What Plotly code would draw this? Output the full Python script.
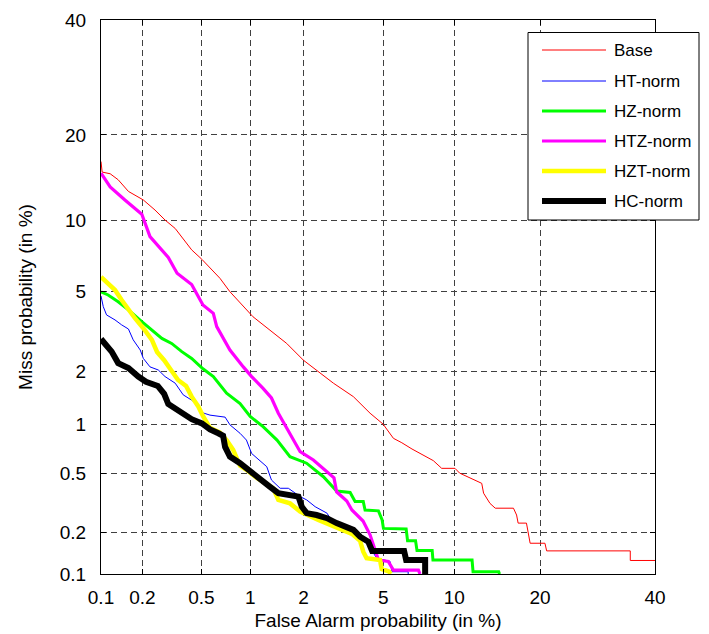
import plotly.graph_objects as go
from statistics import NormalDist

# ---- data (percent values) ----
tick_vals_pct = [0.1, 0.2, 0.5, 1, 2, 5, 10, 20, 40]
tick_labels = ["0.1", "0.2", "0.5", "1", "2", "5", "10", "20", "40"]

base_fa = [0.10, 0.102, 0.117, 0.134, 0.159, 0.203, 0.245, 0.287, 0.336, 0.432, 0.503, 0.655, 0.755,
           1.04, 1.62, 2.0, 2.87, 3.61, 4.34, 4.99, 5.56, 6.06, 6.71, 7.26, 7.75, 8.25, 8.92, 10.07,
           10.5, 11.5, 12.7, 12.9, 13.6, 14.2, 16.4, 16.8, 17.0, 18.1, 18.6, 20.7, 20.95, 35.2, 35.2, 40.0]
base_miss = [16.4, 15.1, 14.9, 14.2, 12.9, 12.0, 11.0, 10.07, 9.33, 7.63, 6.96, 5.75, 5.0,
             3.81, 2.81, 2.3, 1.73, 1.455, 1.17, 1.01, 0.83, 0.78, 0.714, 0.67, 0.633, 0.604, 0.54, 0.54,
             0.503, 0.471, 0.432, 0.372, 0.318, 0.295, 0.295, 0.265, 0.233, 0.233, 0.168, 0.168, 0.148, 0.148, 0.126, 0.126]

ht_fa = [0.10, 0.104, 0.11, 0.127, 0.142, 0.159, 0.172, 0.193, 0.203, 0.226, 0.258, 0.287, 0.336, 0.38,
         0.432, 0.466, 0.49, 0.567, 0.705, 0.755, 0.87, 0.95, 1.02, 1.12, 1.25, 1.33, 1.49, 1.655, 1.92,
         2.08, 2.31, 2.66, 2.87, 3.22, 3.48, 4.18, 4.67, 5.37, 5.48, 6.46, 6.46]
ht_miss = [4.78, 4.26, 3.89, 3.68, 3.48, 3.32, 2.93, 2.60, 2.35, 2.12, 2.04, 1.88, 1.73, 1.49,
           1.39, 1.32, 1.19, 1.14, 1.11, 1.0, 0.89, 0.81, 0.67, 0.61, 0.553, 0.454, 0.401, 0.401, 0.353,
           0.336, 0.302, 0.273, 0.233, 0.226, 0.209, 0.168, 0.131, 0.124, 0.104, 0.104, 0.1]

hz_fa = [0.10, 0.113, 0.134, 0.159, 0.198, 0.233, 0.273, 0.318, 0.372, 0.432, 0.511, 0.595, 0.72, 0.87,
         1.0, 1.19, 1.43, 1.69, 2.08, 2.55, 2.98, 3.48, 3.68, 4.03, 4.11, 4.75, 4.94, 5.01, 6.33, 6.42,
         6.95, 7.05, 8.16, 8.22, 11.7, 11.8, 14.6, 14.7]
hz_miss = [5.0, 4.83, 4.49, 4.11, 3.61, 3.28, 2.98, 2.81, 2.55, 2.35, 2.07, 1.88, 1.52, 1.33,
           1.12, 0.975, 0.81, 0.64, 0.582, 0.477, 0.385, 0.376, 0.327, 0.327, 0.287, 0.283, 0.245, 0.214,
           0.212, 0.175, 0.175, 0.149, 0.149, 0.127, 0.127, 0.104, 0.104, 0.1]

htz_fa = [0.10, 0.117, 0.150, 0.198, 0.226, 0.302, 0.346, 0.432, 0.511, 0.595, 0.625, 0.755, 0.91, 1.02,
          1.19, 1.33, 1.455, 1.69, 1.92, 2.26, 2.60, 2.89, 2.98, 3.35, 3.55, 4.02, 4.34, 4.58, 4.75, 5.27,
          5.56, 7.15, 7.26]
htz_miss = [14.96, 13.4, 12.0, 10.6, 8.65, 7.09, 6.06, 5.39, 4.34, 3.96, 3.41, 2.60, 2.12, 1.88,
            1.62, 1.43, 1.17, 0.89, 0.687, 0.61, 0.528, 0.469, 0.38, 0.33, 0.287, 0.241, 0.193, 0.150, 0.127, 0.124,
            0.107, 0.107, 0.1]

hzt_fa = [0.10, 0.113, 0.127, 0.142, 0.159, 0.177, 0.203, 0.233, 0.253, 0.283, 0.315, 0.351, 0.397, 0.432,
          0.477, 0.513, 0.567, 0.655, 0.72, 0.79, 0.87, 0.95, 1.07, 1.22, 1.36, 1.455, 1.69, 1.92, 2.17,
          2.4, 2.93, 3.55, 3.89, 4.03, 4.18, 4.83, 4.92, 5.32, 5.4]
hzt_miss = [5.83, 5.46, 5.09, 4.58, 4.11, 3.75, 3.35, 2.93, 2.54, 2.3, 2.04, 1.8, 1.67, 1.455,
            1.28, 1.12, 0.96, 0.9, 0.81, 0.705, 0.56, 0.528, 0.477, 0.432, 0.401, 0.336, 0.318, 0.28, 0.258,
            0.245, 0.219, 0.196, 0.175, 0.146, 0.131, 0.127, 0.109, 0.104, 0.1]

hc_fa = [0.10, 0.11, 0.12, 0.134, 0.159, 0.187, 0.212, 0.256, 0.283, 0.302, 0.356, 0.397, 0.432, 0.503,
         0.567, 0.64, 0.685, 0.705, 0.755, 0.87, 1.0, 1.14, 1.3, 1.455, 1.69, 1.88, 1.96, 2.08, 2.35,
         2.66, 2.98, 3.35, 3.61, 3.89, 4.26, 4.44, 6.2, 6.33, 7.63, 7.63]
hc_miss = [2.96, 2.76, 2.55, 2.22, 2.09, 1.88, 1.76, 1.67, 1.51, 1.32, 1.21, 1.14, 1.08, 1.02,
           0.94, 0.89, 0.86, 0.735, 0.64, 0.582, 0.514, 0.454, 0.411, 0.372, 0.362, 0.353, 0.302, 0.273, 0.265,
           0.252, 0.233, 0.219, 0.209, 0.187, 0.172, 0.148, 0.148, 0.127, 0.127, 0.1]

series_names = ["Base", "HT-norm", "HZ-norm", "HTZ-norm", "HZT-norm", "HC-norm"]
series_fa = [base_fa, ht_fa, hz_fa, htz_fa, hzt_fa, hc_fa]
series_miss = [base_miss, ht_miss, hz_miss, htz_miss, hzt_miss, hc_miss]
colors = ["#FF0000", "#0000FF", "#00FF00", "#FF00FF", "#FFFF00", "#000000"]
widths = [1, 1, 3, 3.2, 4.5, 6]

FONT = "Liberation Sans, Arial, sans-serif"
nd = NormalDist()


def probit(p):
    return nd.inv_cdf(p / 100.0)


fig = go.Figure()
for name, fa, miss, color, w in zip(series_names, series_fa, series_miss, colors, widths):
    fig.add_trace(go.Scatter(
        x=[probit(v) for v in fa], y=[probit(v) for v in miss],
        mode="lines", name=name, showlegend=False,
        line=dict(color=color, width=w),
    ))

tv = [probit(v) for v in tick_vals_pct]
rng = [probit(0.1), probit(40)]
axis_common = dict(
    tickvals=tv, ticktext=tick_labels, range=rng,
    showgrid=True, gridcolor="#404040", griddash="6px,4px", gridwidth=1,
    showline=True, linecolor="black", linewidth=1, mirror="ticks",
    ticks="inside", ticklen=5, tickcolor="black",
    tickfont=dict(family=FONT, size=19, color="black"),
    zeroline=False, automargin=False,
)

# plot area in pixels: left 101, right 655, top 20, bottom 574
L, R, T, B = 101, 655, 20, 574
W, H = R - L, B - T


def px_x(p):
    return (p - L) / W


def px_y(p):
    return (B - p) / H


shapes = []
annotations = []
# legend box (drawn over the plot, like the original)
shapes.append(dict(type="rect", xref="paper", yref="paper", layer="above",
                   x0=px_x(528), x1=px_x(699), y0=px_y(220), y1=px_y(32.5),
                   fillcolor="white", line=dict(color="black", width=1)))
entry_y = [50, 81, 111, 141, 171, 201]
for name, color, w, ey in zip(series_names, colors, widths, entry_y):
    shapes.append(dict(type="line", xref="paper", yref="paper", layer="above",
                       x0=px_x(542), x1=px_x(606), y0=px_y(ey), y1=px_y(ey),
                       line=dict(color=color, width=w)))
    annotations.append(dict(text=name, xref="paper", yref="paper", x=px_x(612), y=px_y(ey),
                            xanchor="left", yanchor="middle", showarrow=False,
                            font=dict(family=FONT, size=17, color="black")))

fig.update_layout(
    width=709, height=634,
    margin=dict(l=L, r=709 - R, t=T, b=634 - B),
    paper_bgcolor="white", plot_bgcolor="white",
    font=dict(family=FONT, size=19, color="black"),
    xaxis=dict(axis_common, ticklabelstandoff=6,
               title=dict(text="False Alarm probability (in %)", standoff=6,
                          font=dict(family=FONT, size=19))),
    yaxis=dict(axis_common, ticklabelstandoff=10,
               title=dict(text="Miss probability (in %)", standoff=22,
                          font=dict(family=FONT, size=19))),
    shapes=shapes, annotations=annotations,
    showlegend=False,
)

fig.write_html("out.html")
